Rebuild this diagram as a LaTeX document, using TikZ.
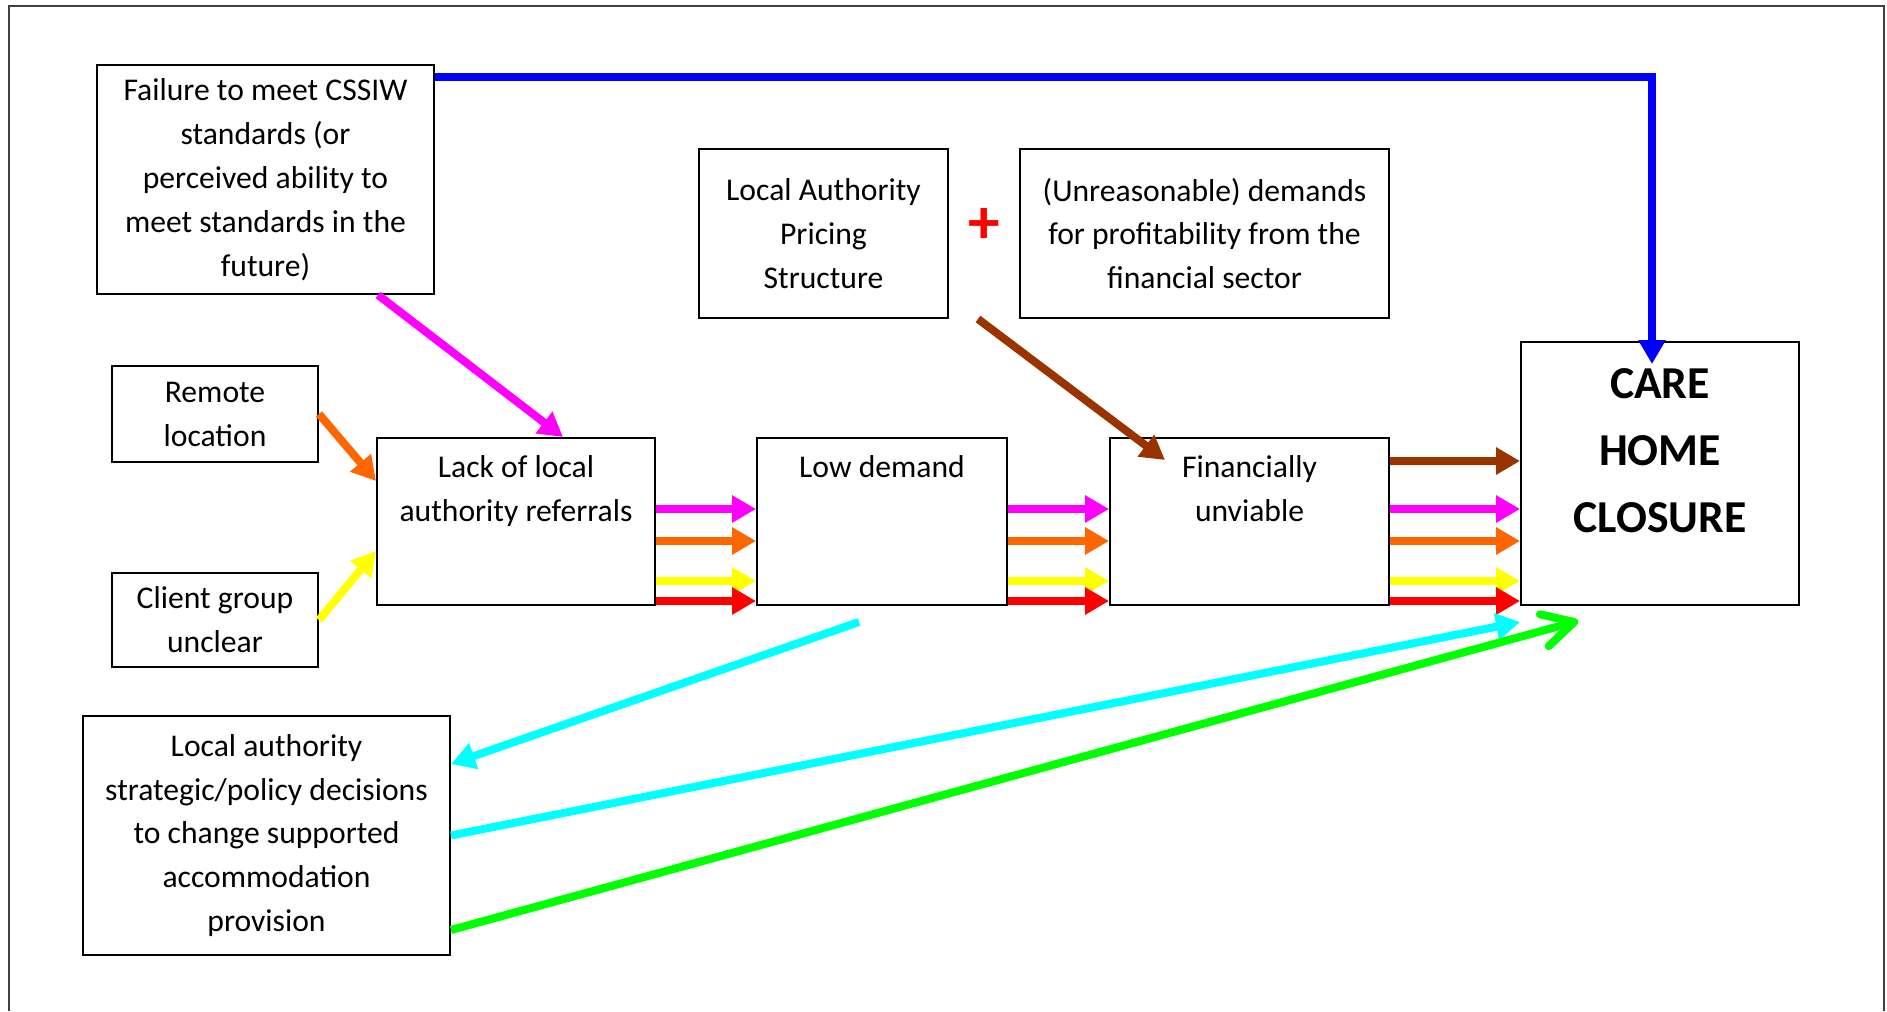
\documentclass[tikz,border=0pt]{standalone}
\usepackage{fontspec}
\setmainfont{Carlito}
\usepackage{tikz}
\usetikzlibrary{arrows.meta, positioning}
\definecolor{flowblue}{RGB}{0,0,255}
\definecolor{flowmagenta}{RGB}{255,0,255}
\definecolor{floworange}{RGB}{255,102,0}
\definecolor{flowyellow}{RGB}{255,255,0}
\definecolor{flowred}{RGB}{255,0,0}
\definecolor{flowbrown}{RGB}{153,51,0}
\definecolor{flowcyan}{RGB}{0,255,255}
\definecolor{flowgreen}{RGB}{0,255,0}

\begin{document}
\begin{tikzpicture}[
    >={Triangle[length=0.48cm, width=0.52cm]},
    box/.style={draw=black, line width=1.1pt, inner sep=0pt, align=center,
      font={\fontsize{18}{25}\selectfont}},
    boxtext/.style={inner sep=0pt, align=center,
      font={\fontsize{18}{25}\selectfont}},
    flow/.style={line width=0.16cm, ->},
  ]

    \useasboundingbox (0,0) rectangle (37.74,20.22);

    % Page frame, open at the bottom
    \draw[black!75, line width=1.4pt] (0.18,0) |- (37.68,20.10) -- (37.68,0);

    % Causes
    \node[box, minimum width=6.74cm, minimum height=4.58cm] (failure) at (5.31,16.63)
      {Failure to meet CSSIW\\standards (or\\perceived ability to\\meet standards in the\\future)};

    \node[box, minimum width=4.98cm, minimum height=3.38cm] (pricing) at (16.47,15.55)
      {Local Authority\\Pricing\\Structure};

    \node[text=flowred, inner sep=0pt, font={\bfseries\fontsize{36}{36}\selectfont}]
      (plus) at (19.68,15.70) {+};

    \node[box, minimum width=7.38cm, minimum height=3.38cm] (profit) at (24.09,15.55)
      {(Unreasonable) demands\\for profitability from the\\financial sector};

    \node[box, minimum width=4.12cm, minimum height=1.92cm] (remote) at (4.30,11.94)
      {Remote\\location};

    \node[box, minimum width=4.12cm, minimum height=1.88cm] (client) at (4.30,7.82)
      {Client group\\unclear};

    \node[box, minimum width=7.34cm, minimum height=4.78cm] (policy) at (5.33,3.51)
      {Local authority\\strategic/policy decisions\\to change supported\\accommodation\\provision};

    % Chain of effects (text sits at the top of each box)
    \node[box, minimum width=5.56cm, minimum height=3.34cm] (referrals) at (10.32,9.79) {};
    \node[boxtext, below=0.36cm of referrals.north] (referralstext)
      {Lack of local\\authority referrals};

    \node[box, minimum width=5.00cm, minimum height=3.34cm] (demand) at (17.64,9.79) {};
    \node[boxtext, below=0.36cm of demand.north] (demandtext) {Low demand};

    \node[box, minimum width=5.58cm, minimum height=3.34cm] (unviable) at (24.99,9.79) {};
    \node[boxtext, below=0.36cm of unviable.north] (unviabletext)
      {Financially\\unviable};

    \node[box, minimum width=5.56cm, minimum height=5.26cm] (closure) at (33.20,10.75) {};
    \node[boxtext, below=0.55cm of closure.north,
      font={\bfseries\fontsize{26}{38}\selectfont}] (closuretext)
      {CARE\\HOME\\CLOSURE};

    % Arrows into the chain
    \draw[flow, flowblue] ([yshift=-0.26cm]failure.north east)
      -| ([xshift=-0.16cm, yshift=-0.46cm]closure.north);

    \draw[flow, flowmagenta] ([xshift=-1.14cm]failure.south east)
      -- ([xshift=0.94cm]referrals.north);

    \draw[flow, floworange] (remote.east) -- ([yshift=0.81cm]referrals.west);
    \draw[flow, flowyellow] (client.east) -- ([yshift=-0.59cm]referrals.west);

    \draw[flow, flowbrown] ([xshift=0.58cm]pricing.south east)
      -- ([xshift=-1.69cm, yshift=-0.46cm]unviable.north);

    % Parallel arrows along the chain
    \foreach \col/\dy in {flowmagenta/0.25, floworange/-0.39, flowyellow/-1.19, flowred/-1.59} {
      \draw[flow, \col] ([yshift=\dy cm]referrals.east) -- ([yshift=\dy cm]demand.west);
      \draw[flow, \col] ([yshift=\dy cm]demand.east) -- ([yshift=\dy cm]unviable.west);
      \draw[flow, \col] ([yshift=\dy cm]unviable.east)
        -- ([yshift=\dy cm - 0.96cm]closure.west);
    }
    \draw[flow, flowbrown] ([yshift=1.21cm]unviable.east) -- ([yshift=0.25cm]closure.west);

    % Local authority decisions
    \draw[flow, flowcyan] ([xshift=-0.46cm, yshift=-0.32cm]demand.south)
      -- ([yshift=1.43cm]policy.east);
    \draw[flow, flowcyan] (policy.east) -- ([yshift=-0.32cm]closure.south west);
    \draw[line width=0.16cm, flowgreen,
      -{Straight Barb[length=0.62cm, width=0.66cm, round]}]
      ([yshift=-1.89cm]policy.east) -- ([xshift=1.16cm, yshift=-0.30cm]closure.south west);

\end{tikzpicture}
\end{document}
